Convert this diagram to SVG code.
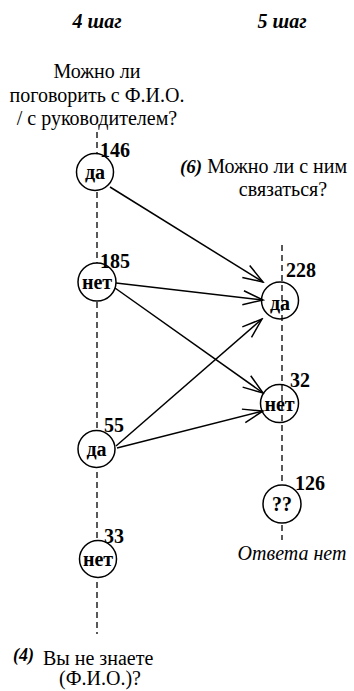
<svg xmlns="http://www.w3.org/2000/svg" width="354" height="691" viewBox="0 0 354 691">
<style>
text{font-family:"Liberation Serif","Times New Roman","DejaVu Serif",serif;fill:#000}
.hdr{font-size:20px;font-weight:bold;font-style:italic;text-anchor:middle}
.q{font-size:20px;text-anchor:middle}
.num{font-size:20px;font-weight:bold}
.lbl{font-size:20px;font-weight:bold;text-anchor:middle}
.bi{font-weight:bold;font-style:italic}
.axis{stroke:#000;stroke-width:1.3;stroke-dasharray:6 4;fill:none}
.c{stroke:#000;stroke-width:1.5;fill:#fff}
.co{stroke:#000;stroke-width:1.5;fill:none}
.e{stroke:#000;stroke-width:1.5;fill:none}
</style>
<defs>
<marker id="arr" markerWidth="24" markerHeight="20" refX="22" refY="10" orient="auto" markerUnits="userSpaceOnUse" viewBox="0 0 24 20">
<path d="M2,3 L22,10 L2,17" fill="none" stroke="#000" stroke-width="1.5"/>
</marker>
</defs>
<rect width="354" height="691" fill="#fff"/>
<g id="headers">
<text class="hdr" x="97" y="28">4 шаг</text>
<text class="hdr" x="282" y="28">5 шаг</text>
</g>
<g id="question4">
<text class="q" x="97" y="78">Можно ли</text>
<text class="q" x="97" y="102">поговорить с Ф.И.О.</text>
<text class="q" x="97" y="125">/ с руководителем?</text>
</g>
<g id="question6">
<text x="180" y="173" style="font-size:20px"><tspan class="bi" style="font-size:19px">(6)</tspan> Можно ли с ним</text>
<text class="q" x="283" y="196">связаться?</text>
</g>
<g id="question4b">
<text x="13" y="661" class="bi" style="font-size:18px">(4)</text>
<text x="43" y="665" style="font-size:20px">Вы не знаете</text>
<text class="q" x="100" y="685">(Ф.И.О.)?</text>
</g>
<g id="axes">
<line class="axis" x1="97" y1="132" x2="97" y2="634"/>
<line class="axis" x1="282" y1="245" x2="282" y2="540"/>
</g>
<g id="connectors">
<line class="e" x1="110" y1="187" x2="263" y2="282" marker-end="url(#arr)"/>
<line class="e" x1="116" y1="283" x2="263" y2="300" marker-end="url(#arr)"/>
<line class="e" x1="115" y1="288" x2="263" y2="393" marker-end="url(#arr)"/>
<line class="e" x1="116" y1="446" x2="262" y2="319" marker-end="url(#arr)"/>
<line class="e" x1="117" y1="448" x2="263" y2="411" marker-end="url(#arr)"/>
</g>
<g id="n146">
<circle class="c" cx="95" cy="172" r="18.5"/>
<text class="lbl" x="95" y="179">да</text>
<text class="num" x="100" y="157">146</text>
</g>
<g id="n185">
<circle class="c" cx="97" cy="282" r="19"/>
<text class="lbl" x="97" y="289">нет</text>
<text class="num" x="100" y="268">185</text>
</g>
<g id="n55">
<circle class="c" cx="96.5" cy="449" r="18.5"/>
<text class="lbl" x="96.5" y="456">да</text>
<text class="num" x="104" y="432">55</text>
</g>
<g id="n33">
<circle class="c" cx="98" cy="559" r="18.5"/>
<text class="lbl" x="98" y="566">нет</text>
<text class="num" x="104" y="543">33</text>
</g>
<g id="n228">
<circle class="co" cx="280" cy="300.5" r="18.5"/>
<text class="lbl" x="280" y="310">да</text>
<text class="num" x="286" y="277">228</text>
</g>
<g id="n32">
<circle class="co" cx="279.5" cy="403.5" r="19"/>
<text class="lbl" x="279.5" y="411">нет</text>
<text class="num" x="290" y="387">32</text>
</g>
<g id="n126">
<circle class="c" cx="282" cy="504" r="19"/>
<text class="lbl" x="282" y="511">??</text>
<text class="num" x="295" y="490">126</text>
</g>
<g id="noanswer">
<text x="292" y="560" style="font-size:20px;font-style:italic;text-anchor:middle">Ответа нет</text>
</g>
</svg>
